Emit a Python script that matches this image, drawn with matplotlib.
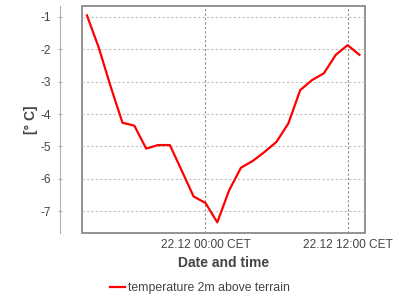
import matplotlib
matplotlib.use('Agg')
import matplotlib.pyplot as plt
from matplotlib.patches import Rectangle
import pandas as pd

plt.rcParams['font.family'] = ['Liberation Sans', 'DejaVu Sans']
plt.rcParams['axes.unicode_minus'] = False

# hourly values, 21.12 14:00 .. 22.12 13:00
times = pd.date_range('2012-12-21 14:00', periods=24, freq='h')
temps = [-0.95, -1.95, -3.15, -4.27, -4.36, -5.07, -4.96, -4.96, -5.75, -6.55,
         -6.75, -7.35, -6.36, -5.66, -5.45, -5.17, -4.86, -4.29, -3.26, -2.95,
         -2.74, -2.17, -1.87, -2.17]
xticks = pd.to_datetime(['2012-12-22 00:00', '2012-12-22 12:00'])
xticklabels = ['22.12 00:00 CET', '22.12 12:00 CET']
yticks = [-1, -2, -3, -4, -5, -6, -7]
series_name = 'temperature 2m above terrain'

txt = '#444444'

fig = plt.figure(figsize=(4, 3), dpi=100)
ax = fig.add_axes([0.205, 0.2233, 0.7075, 0.7567])

ax.plot(times, temps, color='#ff0000', lw=1.6, label=series_name)

ax.set_xlim(times[0] - pd.Timedelta(minutes=25), times[-1] + pd.Timedelta(minutes=28))
ax.set_ylim(-7.68, -0.66)

ax.set_xticks(xticks)
ax.set_xticklabels(xticklabels)
ax.set_yticks(yticks)
ax.tick_params(axis='x', length=0, pad=4, labelsize=8.6, colors=txt)
ax.tick_params(axis='y', direction='inout', length=3, width=0.8, color='#b0b0b0',
               pad=5, labelsize=8.6, labelcolor=txt)

ax.grid(axis='y', color='#c0c0c0', lw=0.8, ls=(0, (2, 2)))
ax.grid(axis='x', color='#888888', lw=0.8, ls=(0, (2, 2)))

for s in ['top', 'right', 'bottom']:
    ax.spines[s].set_visible(False)
ax.spines['left'].set_position(('outward', 15.8))
ax.spines['left'].set_color('#b0b0b0')
ax.add_patch(Rectangle((0, 0), 1, 1, transform=ax.transAxes, fill=False,
                       ec='#808080', lw=1.2, clip_on=False))

ax.set_xlabel('Date and time', fontsize=10, fontweight='bold', color=txt, labelpad=4)
ax.set_ylabel('[° C]', fontsize=10, fontweight='bold', color=txt)
ax.yaxis.set_label_coords(-0.155, 0.5)

fig.legend(loc='center', bbox_to_anchor=(0.5, 0.04), frameon=False,
           fontsize=8.8, labelcolor=txt, handlelength=1.2, handletextpad=0.3)

fig.savefig('out.png', dpi=100)
